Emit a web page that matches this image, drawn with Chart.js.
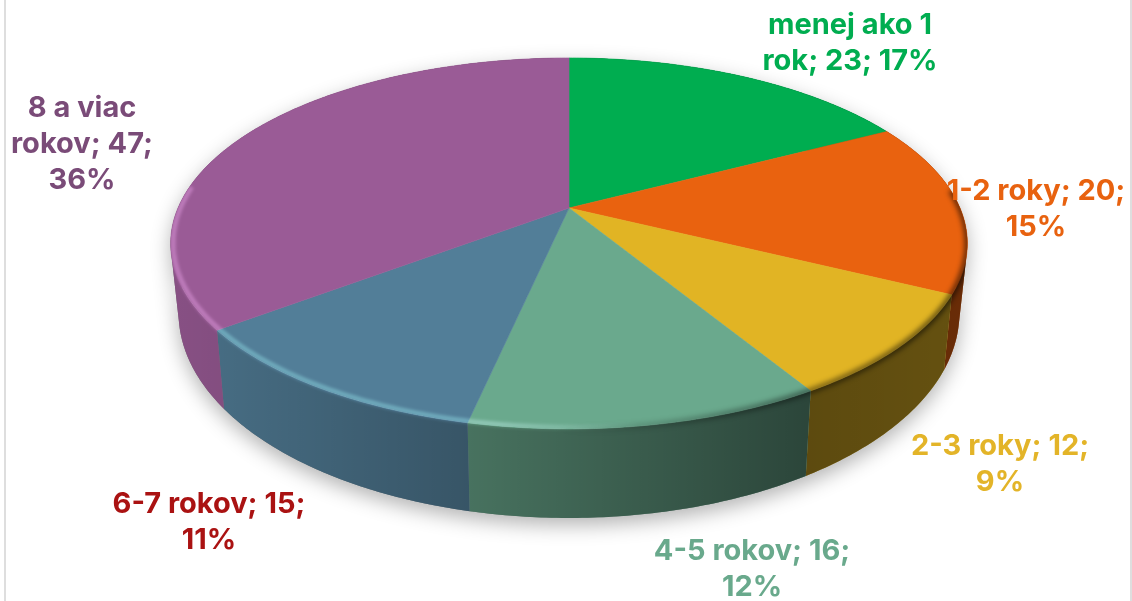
<!DOCTYPE html>
<html>
<head>
<meta charset="utf-8">
<title>Pie</title>
<script src="https://cdn.jsdelivr.net/npm/chart.js@4"></script>
<style>
  html, body { margin: 0; padding: 0; background: #fff; overflow: hidden; }
  #wrap { position: relative; width: 1132px; height: 601px; }
  #wrap:before, #wrap:after { content: ""; position: absolute; top: 0; bottom: 0; width: 2px; background: #dedede; }
  #wrap:before { left: 4px; }
  #wrap:after { left: 1130px; }
</style>
</head>
<body>
<div id="wrap"><canvas id="myChart" width="1132" height="601"></canvas></div>
<script>
var categories = ["menej ako 1 rok", "1-2 roky", "2-3 roky", "4-5 rokov", "6-7 rokov", "8 a viac rokov"];
var counts = [23, 20, 12, 16, 15, 47];
var sliceColors = ["#00AD50", "#E9620F", "#E1B424", "#6AA98D", "#527E98", "#9A5B96"];
var labelColors = ["#00AD50", "#E8620F", "#E3B428", "#69A98C", "#AA1212", "#7A4B78"];
var labelLines = [
  ["menej ako 1", "rok; 23; 17%"],
  ["1-2 roky; 20;", "15%"],
  ["2-3 roky; 12;", "9%"],
  ["4-5 rokov; 16;", "12%"],
  ["6-7 rokov; 15;", "11%"],
  ["8 a viac", "rokov; 47;", "36%"]
];
// centre of the first line of each label
var labelAnchors = [[850, 25], [1036, 191], [1000, 446], [752, 551], [209, 504], [82, 108]];

// view of the disc: perspective squash, the hub sits above the middle of the ellipse
var hubX = 569, hubY = 208, spanX = 391, spanY = 178.7, tilt = 0.191;

function project(angle, r, d) {
  // angle is the Chart.js arc angle, d is 0 on the top face and 1 at the foot of the wall
  var u = r * Math.cos(angle), v = r * Math.sin(angle);
  var w = 1 / (1 - tilt * v);
  var x = hubX + spanX * u * w;
  var y = hubY + spanY * v * w;
  return [hubX + (x - hubX) * (1 - 0.02 * d), y + d * (44 + 0.105 * y)];
}

function trace(ctx, from, to, r, d, first) {
  var steps = Math.max(2, Math.ceil(Math.abs(to - from) * 90));
  for (var i = 0; i <= steps; i++) {
    var p = project(from + (to - from) * i / steps, r, d);
    if (i === 0 && first) ctx.moveTo(p[0], p[1]);
    else ctx.lineTo(p[0], p[1]);
  }
}

// the wall as small quads, all wound the same way so the fold at the silhouette stays filled
function wallPath(ctx, from, to) {
  var steps = Math.max(2, Math.ceil(Math.abs(to - from) * 90));
  for (var i = 0; i < steps; i++) {
    var a = from + (to - from) * i / steps;
    var b = from + (to - from) * (i + 1) / steps;
    var q = [project(a, 1, 0), project(b, 1, 0), project(b, 1, 1), project(a, 1, 1)];
    var area = 0;
    for (var k = 0; k < 4; k++) {
      var n = q[(k + 1) % 4];
      area += q[k][0] * n[1] - n[0] * q[k][1];
    }
    if (area < 0) q.reverse();
    ctx.moveTo(q[0][0], q[0][1]);
    ctx.lineTo(q[1][0], q[1][1]);
    ctx.lineTo(q[2][0], q[2][1]);
    ctx.lineTo(q[3][0], q[3][1]);
    ctx.closePath();
  }
}

var pie3d = {
  id: "pie3d",
  beforeDatasetsDraw: function (chart) {
    var ctx = chart.ctx;
    var arcs = chart.getDatasetMeta(0).data;
    var first = arcs[0].startAngle, last = arcs[arcs.length - 1].endAngle;

    // soft shadow on the paper
    ctx.save();
    ctx.shadowColor = "rgba(0,0,0,0.30)";
    ctx.shadowBlur = 20;
    ctx.shadowOffsetY = 7;
    ctx.fillStyle = "#777";
    ctx.beginPath();
    wallPath(ctx, first, last);
    ctx.fill();
    ctx.restore();

    // wall, slice colour then a left to right darkening
    var shade = ctx.createLinearGradient(170, 0, 967, 0);
    shade.addColorStop(0, "rgba(0,0,0,0.12)");
    shade.addColorStop(0.07, "rgba(0,0,0,0.15)");
    shade.addColorStop(0.38, "rgba(0,0,0,0.33)");
    shade.addColorStop(0.8, "rgba(0,0,0,0.59)");
    shade.addColorStop(1, "rgba(0,0,0,0.55)");
    arcs.forEach(function (arc, i) {
      ctx.beginPath();
      wallPath(ctx, arc.startAngle, arc.endAngle);
      ctx.fillStyle = sliceColors[i];
      ctx.fill();
      ctx.fillStyle = shade;
      ctx.fill();
    });

    // top face
    arcs.forEach(function (arc, i) {
      ctx.beginPath();
      var hub = project(0, 0, 0);
      ctx.moveTo(hub[0], hub[1]);
      trace(ctx, arc.startAngle, arc.endAngle, 1, 0, false);
      ctx.closePath();
      ctx.fillStyle = sliceColors[i];
      ctx.strokeStyle = sliceColors[i];
      ctx.lineWidth = 0.6;
      ctx.fill();
      ctx.stroke();
    });

    // bevel along the front rim: saturated light on the left, a soft dark edge on the right
    ctx.save();
    ctx.beginPath();
    trace(ctx, first, last, 1, 0, true);
    ctx.closePath();
    wallPath(ctx, first, last);
    ctx.clip();

    var light = ctx.createLinearGradient(170, 0, 640, 0);
    light.addColorStop(0, "rgba(255,255,255,0.34)");
    light.addColorStop(0.7, "rgba(255,255,255,0.34)");
    light.addColorStop(1, "rgba(255,255,255,0)");
    ctx.globalCompositeOperation = "overlay";
    ctx.filter = "blur(1.5px)";
    ctx.beginPath();
    trace(ctx, Math.PI / 2 - 0.15, Math.PI + 0.12, 0.994, 0, true);
    ctx.strokeStyle = light;
    ctx.lineWidth = 5;
    ctx.stroke();

    var dark = ctx.createLinearGradient(560, 0, 967, 0);
    dark.addColorStop(0, "rgba(0,0,0,0)");
    dark.addColorStop(0.6, "rgba(0,0,0,0.42)");
    dark.addColorStop(1, "rgba(0,0,0,0.55)");
    ctx.globalCompositeOperation = "source-over";
    ctx.filter = "blur(2.5px)";
    ctx.beginPath();
    trace(ctx, -0.1, Math.PI / 2 + 0.1, 1, 0, true);
    ctx.strokeStyle = dark;
    ctx.lineWidth = 6;
    ctx.stroke();
    ctx.restore();

    return false;
  },
  afterDraw: function (chart) {
    var ctx = chart.ctx;
    ctx.save();
    ctx.font = "700 29px Inter";
    ctx.textAlign = "center";
    ctx.textBaseline = "middle";
    labelLines.forEach(function (lines, i) {
      ctx.fillStyle = labelColors[i];
      lines.forEach(function (line, j) {
        ctx.fillText(line, labelAnchors[i][0], labelAnchors[i][1] + j * 36);
      });
    });
    ctx.restore();
  }
};

document.addEventListener("DOMContentLoaded", function () {
  var ctx = document.getElementById("myChart").getContext("2d");
  window.myChart = new Chart(ctx, {
    type: "pie",
    data: {
      labels: categories,
      datasets: [{ data: counts, backgroundColor: sliceColors, borderWidth: 0 }]
    },
    options: {
      responsive: false,
      animation: false,
      plugins: { legend: { display: false }, tooltip: { enabled: false } }
    },
    plugins: [pie3d]
  });
});
</script>
</body>
</html>
